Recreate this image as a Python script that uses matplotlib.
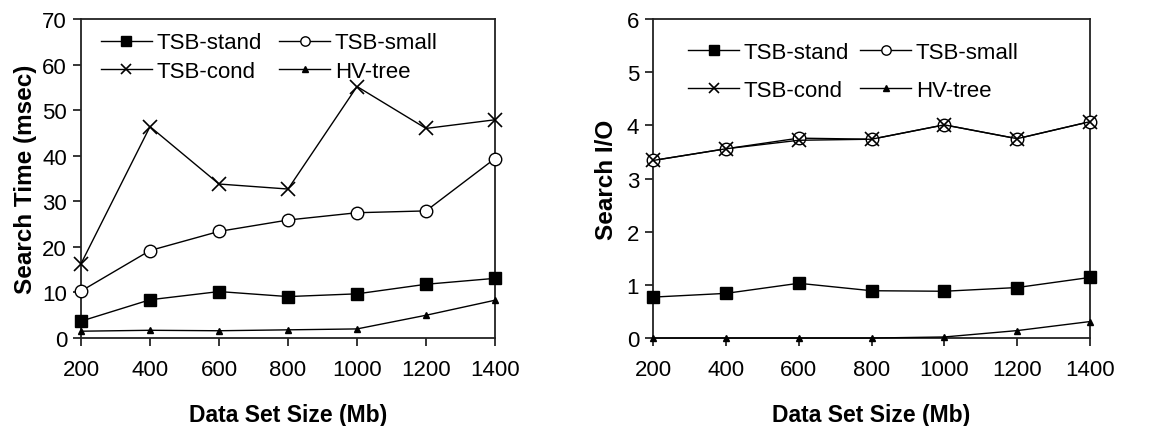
import matplotlib.pyplot as plt

plt.rcParams['font.family'] = ['Liberation Sans', 'DejaVu Sans']

# -----------------------------
# data
# -----------------------------
sizes = [200, 400, 600, 800, 1000, 1200, 1400]

time_stand = [3.7, 8.4, 10.2, 9.1, 9.7, 11.8, 13.1]
time_small = [10.3, 19.2, 23.4, 25.9, 27.5, 27.9, 39.4]
time_cond = [16.3, 46.4, 33.8, 32.7, 55.2, 46.0, 47.9]
time_hv = [1.5, 1.7, 1.6, 1.8, 2.0, 5.0, 8.3]

io_stand = [0.77, 0.84, 1.03, 0.89, 0.88, 0.95, 1.14]
io_small = [3.34, 3.56, 3.76, 3.74, 4.01, 3.75, 4.07]
io_cond = [3.34, 3.56, 3.72, 3.74, 4.01, 3.75, 4.07]
io_hv = [0.0, 0.0, 0.0, 0.0, 0.02, 0.14, 0.31]

labels = ["TSB-stand", "TSB-small", "TSB-cond", "HV-tree"]

fig = plt.figure(figsize=(11.67, 4.27), dpi=100)

ax1 = fig.add_axes([0.0694, 0.206, 0.3548, 0.747])
ax2 = fig.add_axes([0.5596, 0.206, 0.3744, 0.747])


def draw(ax, stand, small, cond, hv):
    kw = dict(color="black", linewidth=1.0, clip_on=False)
    h1, = ax.plot(sizes, stand, marker="s", markersize=9, markerfacecolor="black",
                  label=labels[0], zorder=3, **kw)
    h2, = ax.plot(sizes, small, marker="o", markersize=9, markerfacecolor="white",
                  markeredgewidth=1.0, label=labels[1], zorder=3, **kw)
    h3, = ax.plot(sizes, cond, marker="x", markersize=10, markeredgewidth=1.2,
                  label=labels[2], zorder=4, **kw)
    h4, = ax.plot(sizes, hv, marker="^", markersize=5, markerfacecolor="black",
                  label=labels[3], zorder=3, **kw)
    ax.set_xlim(200, 1400)
    ax.set_xticks(sizes)
    for s in ax.spines.values():
        s.set_linewidth(1.3)
        s.set_color("#222222")
    ax.tick_params(direction="out", length=6, width=1.1, labelsize=16, pad=4)
    ax.tick_params(axis="x", pad=9)
    ax.set_xlabel("Data Set Size (Mb)", fontsize=16.5, fontweight="bold", labelpad=17)
    # legend is filled column by column, so order for row-major look
    return [h1, h3, h2, h4]


# -----------------------------
# left: search time
# -----------------------------
hs = draw(ax1, time_stand, time_small, time_cond, time_hv)
ax1.set_ylim(0, 70)
ax1.set_yticks(range(0, 71, 10))
ax1.set_ylabel("Search Time (msec)", fontsize=17.5, fontweight="bold", labelpad=4)
ax1.legend(handles=hs, ncol=2, loc="upper left", frameon=False, fontsize=16,
           handlelength=2.3, handletextpad=0.2, columnspacing=0.8,
           labelspacing=0.35, borderaxespad=0.2, markerscale=0.75,
           bbox_to_anchor=(0.015, 1.0))

# -----------------------------
# right: search I/O
# -----------------------------
hs = draw(ax2, io_stand, io_small, io_cond, io_hv)
ax2.set_ylim(0, 6)
ax2.set_yticks(range(0, 7))
ax2.set_ylabel("Search I/O", fontsize=17.5, fontweight="bold", labelpad=6)
ax2.legend(handles=hs, ncol=2, loc="upper left", frameon=False, fontsize=16,
           handlelength=2.3, handletextpad=0.2, columnspacing=0.5,
           labelspacing=0.75, borderaxespad=0.2, markerscale=0.75,
           bbox_to_anchor=(0.05, 0.97))

plt.savefig("out.png", dpi=100)
